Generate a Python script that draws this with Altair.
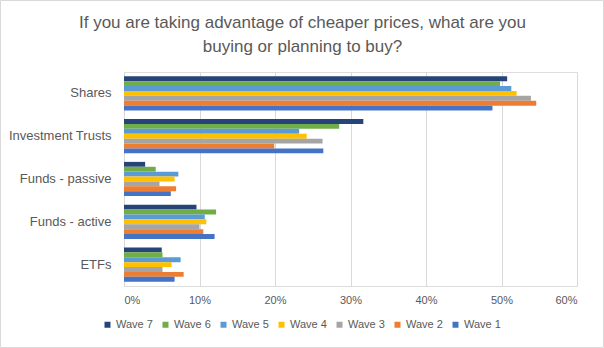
import altair as alt
import pandas as pd

categories = ["Shares", "Investment Trusts", "Funds - passive", "Funds - active", "ETFs"]
waves = ["Wave 7", "Wave 6", "Wave 5", "Wave 4", "Wave 3", "Wave 2", "Wave 1"]
wave7 = [50.75, 31.7, 2.8, 9.6, 5.0]
wave6 = [49.8, 28.5, 4.2, 12.2, 5.1]
wave5 = [51.3, 23.2, 7.2, 10.7, 7.5]
wave4 = [52.0, 24.2, 6.7, 10.9, 6.3]
wave3 = [53.9, 26.3, 4.7, 10.0, 5.1]
wave2 = [54.6, 19.9, 6.9, 10.5, 7.9]
wave1 = [48.8, 26.4, 6.2, 12.0, 6.7]
colors = ["#264478", "#70AD47", "#5B9BD5", "#FFC000", "#A5A5A5", "#ED7D31", "#4472C4"]

series = [wave7, wave6, wave5, wave4, wave3, wave2, wave1]
rows = []
for w, vals in zip(waves, series):
    for c, v in zip(categories, vals):
        rows.append({"Category": c, "Wave": w, "Value": v / 100})
df = pd.DataFrame(rows)

FONT = "Liberation Sans"
GREY = "#595959"

bars = alt.Chart(df).mark_bar().encode(
    x=alt.X("Value:Q",
            scale=alt.Scale(domain=[0, 0.6], nice=False),
            axis=alt.Axis(format=".0%", values=[0, 0.1, 0.2, 0.3, 0.4, 0.5, 0.6],
                          title=None, domain=False, ticks=False, grid=True,
                          gridColor="#D9D9D9", labelColor=GREY, labelFont=FONT,
                          labelFontSize=11, labelPadding=8)),
    y=alt.Y("Category:N", sort=categories,
            scale=alt.Scale(paddingInner=0.2, paddingOuter=0.1),
            axis=alt.Axis(title=None, ticks=False, domain=True, domainColor="#D9D9D9",
                          labelColor=GREY, labelFont=FONT, labelFontSize=13,
                          labelPadding=13)),
    yOffset=alt.YOffset("Wave:N", sort=waves, scale=alt.Scale(paddingInner=0, paddingOuter=0)),
    color=alt.Color("Wave:N", sort=waves,
                    scale=alt.Scale(domain=waves, range=colors),
                    legend=alt.Legend(title=None, orient="none", direction="horizontal",
                                      legendX=-22, legendY=247, symbolType="square",
                                      symbolSize=36, symbolStrokeWidth=0,
                                      labelFont=FONT, labelFontSize=11, labelColor=GREY,
                                      labelOffset=3, columnPadding=7)),
)

border = alt.Chart(pd.DataFrame({"k": [0]})).mark_rect(
    fill=None, stroke="#D9D9D9", strokeWidth=1
).encode(
    x=alt.value(-123.5), x2=alt.value(479.5), y=alt.value(-71.5), y2=alt.value(275.5)
)

chart = alt.layer(bars, border).properties(
    width=453,
    height=214,
    title=alt.TitleParams(
        text=["If you are taking advantage of cheaper prices, what are you",
              "buying or planning to buy?"],
        font=FONT, fontSize=17, fontWeight="normal", color=GREY,
        anchor="middle", dx=-48, offset=-56, lineHeight=24, baseline="top",
    ),
    autosize=alt.AutoSizeParams(type="none"),
    padding={"left": 124, "top": 72, "right": 27, "bottom": 62},
).configure_view(stroke=None).configure(background="white")

chart.save("out.html", embed_options={"renderer": "svg", "actions": False})
